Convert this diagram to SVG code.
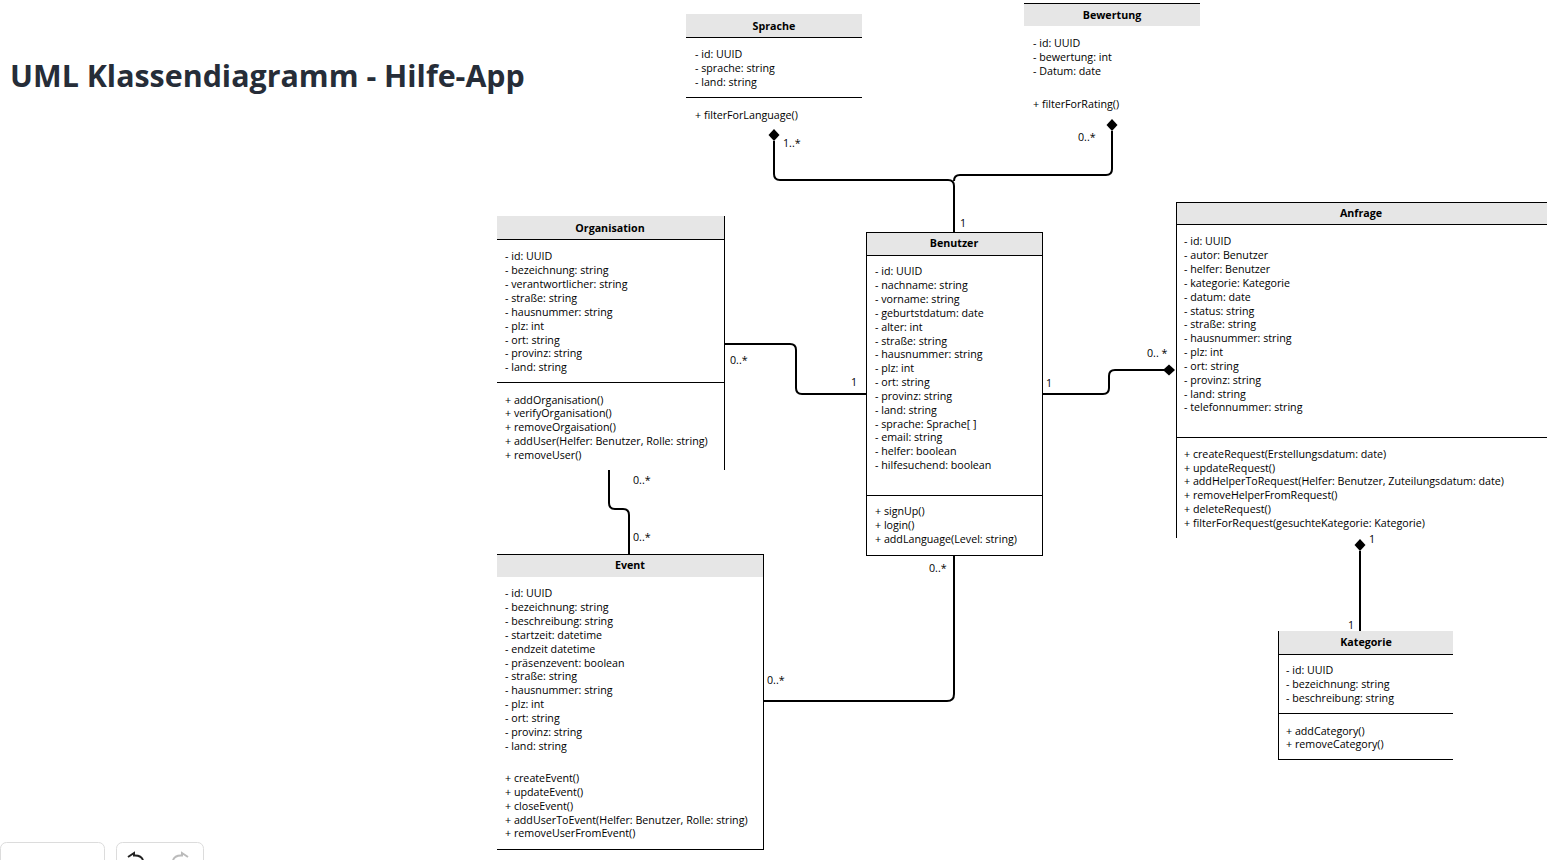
<svg xmlns="http://www.w3.org/2000/svg" width="1567" height="860" viewBox="0 0 1567 860">
<style>
.bg{fill:#ffffff}
.hdr{fill:#e6e6e6;stroke:none}
.ln{stroke:#000;stroke-width:1;fill:none}
.box{stroke:#000;stroke-width:1;fill:#fff}
.t{font-family:"Open Sans","Liberation Sans",sans-serif;font-size:10.7px;fill:#000}
.h{font-family:"Open Sans","Liberation Sans",sans-serif;font-size:10.7px;font-weight:bold;fill:#000;text-anchor:middle}
.conn{fill:none;stroke:#000;stroke-width:2}
.dia{fill:#000;stroke:none}
.lbl{font-family:"Open Sans","Liberation Sans",sans-serif;font-size:10.7px;fill:#000}
.title{font-family:"Open Sans","Liberation Sans",sans-serif;font-size:30.4px;font-weight:bold;fill:#262d38}
.btn{fill:#fff;stroke:#dcdcdc;stroke-width:1}
</style>
<rect class="bg" x="0" y="0" width="1567" height="860"/>
<text class="title" x="10" y="87">UML Klassendiagramm - Hilfe-App</text>

<g id="connectors">
<path class="conn" d="M774,141 V174 Q774,180 780,180 H948 Q954,180 954,186 V232"/>
<path class="conn" d="M1112,131 V169 Q1112,175 1106,175 H960 Q954,175 954,181"/>
<polygon class="dia" points="774,129 779.5,135 774,141 768.5,135"/>
<polygon class="dia" points="1112,119 1117.5,125 1112,131 1106.5,125"/>
<path class="conn" d="M724,344 H790 Q796,344 796,350 V388 Q796,394 802,394 H866"/>
<path class="conn" d="M1042,394 H1103 Q1109,394 1109,388 V376 Q1109,370 1115,370 H1164"/>
<polygon class="dia" points="1163,370 1169,364.5 1175,370 1169,375.5"/>
<path class="conn" d="M609,470 V503 Q609,509 615,509 H623 Q629,509 629,515 V554"/>
<path class="conn" d="M763,701 H947 Q954,701 954,694 V555"/>
<path class="conn" d="M1360,551 V631"/>
<polygon class="dia" points="1360,539 1365.5,545 1360,551 1354.5,545"/>
<text class="lbl" x="783" y="147">1..*</text>
<text class="lbl" x="1078" y="141">0..*</text>
<text class="lbl" x="960" y="227">1</text>
<text class="lbl" x="730" y="364">0..*</text>
<text class="lbl" x="851" y="386">1</text>
<text class="lbl" x="1046" y="387">1</text>
<text class="lbl" x="1147" y="357">0.. *</text>
<text class="lbl" x="633" y="484">0..*</text>
<text class="lbl" x="633" y="541">0..*</text>
<text class="lbl" x="929" y="572">0..*</text>
<text class="lbl" x="767" y="684">0..*</text>
<text class="lbl" x="1369" y="543">1</text>
<text class="lbl" x="1348" y="629">1</text>
</g>

<g id="sprache">
<rect class="hdr" x="686" y="14" width="176" height="23"/>
<line class="ln" x1="686" y1="37.5" x2="862" y2="37.5"/>
<line class="ln" x1="686" y1="97.5" x2="862" y2="97.5"/>
<text class="h" x="774" y="30">Sprache</text>
<text class="t" x="695" y="58">- id: UUID</text>
<text class="t" x="695" y="72">- sprache: string</text>
<text class="t" x="695" y="86">- land: string</text>
<text class="t" x="695" y="119">+ filterForLanguage()</text>
</g>

<g id="bewertung">
<rect class="hdr" x="1024" y="3" width="176" height="23"/>
<line class="ln" x1="1024" y1="3.5" x2="1200" y2="3.5"/>
<text class="h" x="1112" y="19">Bewertung</text>
<text class="t" x="1033" y="47">- id: UUID</text>
<text class="t" x="1033" y="61">- bewertung: int</text>
<text class="t" x="1033" y="75">- Datum: date</text>
<text class="t" x="1033" y="108">+ filterForRating()</text>
</g>

<g id="organisation">
<rect class="hdr" x="497" y="216" width="227" height="23"/>
<line class="ln" x1="497" y1="239.5" x2="724" y2="239.5"/>
<line class="ln" x1="724.5" y1="216" x2="724.5" y2="470"/>
<line class="ln" x1="497" y1="382.5" x2="724" y2="382.5"/>
<text class="h" x="610" y="232">Organisation</text>
<text class="t" x="505" y="260">- id: UUID</text>
<text class="t" x="505" y="274">- bezeichnung: string</text>
<text class="t" x="505" y="288">- verantwortlicher: string</text>
<text class="t" x="505" y="302">- straße: string</text>
<text class="t" x="505" y="316">- hausnummer: string</text>
<text class="t" x="505" y="330">- plz: int</text>
<text class="t" x="505" y="344">- ort: string</text>
<text class="t" x="505" y="357">- provinz: string</text>
<text class="t" x="505" y="371">- land: string</text>
<text class="t" x="505" y="404">+ addOrganisation()</text>
<text class="t" x="505" y="417">+ verifyOrganisation()</text>
<text class="t" x="505" y="431">+ removeOrgaisation()</text>
<text class="t" x="505" y="445">+ addUser(Helfer: Benutzer, Rolle: string)</text>
<text class="t" x="505" y="459">+ removeUser()</text>
</g>

<g id="benutzer">
<rect class="box" x="866.5" y="232.5" width="176" height="323"/>
<rect class="hdr" x="867" y="233" width="175" height="22"/>
<line class="ln" x1="866" y1="255.5" x2="1042" y2="255.5"/>
<line class="ln" x1="866" y1="495.5" x2="1042" y2="495.5"/>
<text class="h" x="954" y="247">Benutzer</text>
<text class="t" x="875" y="275">- id: UUID</text>
<text class="t" x="875" y="289">- nachname: string</text>
<text class="t" x="875" y="303">- vorname: string</text>
<text class="t" x="875" y="317">- geburtstdatum: date</text>
<text class="t" x="875" y="331">- alter: int</text>
<text class="t" x="875" y="345">- straße: string</text>
<text class="t" x="875" y="358">- hausnummer: string</text>
<text class="t" x="875" y="372">- plz: int</text>
<text class="t" x="875" y="386">- ort: string</text>
<text class="t" x="875" y="400">- provinz: string</text>
<text class="t" x="875" y="414">- land: string</text>
<text class="t" x="875" y="428">- sprache: Sprache[ ]</text>
<text class="t" x="875" y="441">- email: string</text>
<text class="t" x="875" y="455">- helfer: boolean</text>
<text class="t" x="875" y="469">- hilfesuchend: boolean</text>
<text class="t" x="875" y="515">+ signUp()</text>
<text class="t" x="875" y="529">+ login()</text>
<text class="t" x="875" y="543">+ addLanguage(Level: string)</text>
</g>

<g id="anfrage">
<rect class="hdr" x="1176" y="202" width="371" height="22"/>
<line class="ln" x1="1176" y1="202.5" x2="1547" y2="202.5"/>
<line class="ln" x1="1176.5" y1="202" x2="1176.5" y2="538"/>
<line class="ln" x1="1176" y1="224.5" x2="1547" y2="224.5"/>
<line class="ln" x1="1176" y1="437.5" x2="1547" y2="437.5"/>
<text class="h" x="1361" y="217">Anfrage</text>
<text class="t" x="1184" y="245">- id: UUID</text>
<text class="t" x="1184" y="259">- autor: Benutzer</text>
<text class="t" x="1184" y="273">- helfer: Benutzer</text>
<text class="t" x="1184" y="287">- kategorie: Kategorie</text>
<text class="t" x="1184" y="301">- datum: date</text>
<text class="t" x="1184" y="315">- status: string</text>
<text class="t" x="1184" y="328">- straße: string</text>
<text class="t" x="1184" y="342">- hausnummer: string</text>
<text class="t" x="1184" y="356">- plz: int</text>
<text class="t" x="1184" y="370">- ort: string</text>
<text class="t" x="1184" y="384">- provinz: string</text>
<text class="t" x="1184" y="398">- land: string</text>
<text class="t" x="1184" y="411">- telefonnummer: string</text>
<text class="t" x="1184" y="458">+ createRequest(Erstellungsdatum: date)</text>
<text class="t" x="1184" y="472">+ updateRequest()</text>
<text class="t" x="1184" y="485">+ addHelperToRequest(Helfer: Benutzer, Zuteilungsdatum: date)</text>
<text class="t" x="1184" y="499">+ removeHelperFromRequest()</text>
<text class="t" x="1184" y="513">+ deleteRequest()</text>
<text class="t" x="1184" y="527">+ filterForRequest(gesuchteKategorie: Kategorie)</text>
</g>

<g id="event">
<rect class="hdr" x="497" y="554" width="266" height="23"/>
<line class="ln" x1="497" y1="554.5" x2="763" y2="554.5"/>
<line class="ln" x1="763.5" y1="554" x2="763.5" y2="850"/>
<line class="ln" x1="497" y1="849.5" x2="764" y2="849.5"/>
<text class="h" x="630" y="569">Event</text>
<text class="t" x="505" y="597">- id: UUID</text>
<text class="t" x="505" y="611">- bezeichnung: string</text>
<text class="t" x="505" y="625">- beschreibung: string</text>
<text class="t" x="505" y="639">- startzeit: datetime</text>
<text class="t" x="505" y="653">- endzeit datetime</text>
<text class="t" x="505" y="667">- präsenzevent: boolean</text>
<text class="t" x="505" y="680">- straße: string</text>
<text class="t" x="505" y="694">- hausnummer: string</text>
<text class="t" x="505" y="708">- plz: int</text>
<text class="t" x="505" y="722">- ort: string</text>
<text class="t" x="505" y="736">- provinz: string</text>
<text class="t" x="505" y="750">- land: string</text>
<text class="t" x="505" y="782">+ createEvent()</text>
<text class="t" x="505" y="796">+ updateEvent()</text>
<text class="t" x="505" y="810">+ closeEvent()</text>
<text class="t" x="505" y="824">+ addUserToEvent(Helfer: Benutzer, Rolle: string)</text>
<text class="t" x="505" y="837">+ removeUserFromEvent()</text>
</g>

<g id="kategorie">
<rect class="hdr" x="1278" y="631" width="175" height="23"/>
<line class="ln" x1="1278.5" y1="631" x2="1278.5" y2="760"/>
<line class="ln" x1="1278" y1="654.5" x2="1453" y2="654.5"/>
<line class="ln" x1="1278" y1="713.5" x2="1453" y2="713.5"/>
<line class="ln" x1="1278" y1="759.5" x2="1453" y2="759.5"/>
<text class="h" x="1366" y="646">Kategorie</text>
<text class="t" x="1286" y="674">- id: UUID</text>
<text class="t" x="1286" y="688">- bezeichnung: string</text>
<text class="t" x="1286" y="702">- beschreibung: string</text>
<text class="t" x="1286" y="735">+ addCategory()</text>
<text class="t" x="1286" y="748">+ removeCategory()</text>
</g>

<g id="toolbar">
<rect class="btn" x="0.5" y="842.5" width="104" height="30" rx="6"/>
<rect class="btn" x="116.5" y="842.5" width="87" height="30" rx="6"/>
<path d="M128,857 L134,853 L134,855.5 Q141,855 143,860" fill="none" stroke="#222" stroke-width="2"/>
<path d="M188,857 L182,853 L182,855.5 Q175,855 173,860" fill="none" stroke="#bbb" stroke-width="2"/>
</g>
</svg>
